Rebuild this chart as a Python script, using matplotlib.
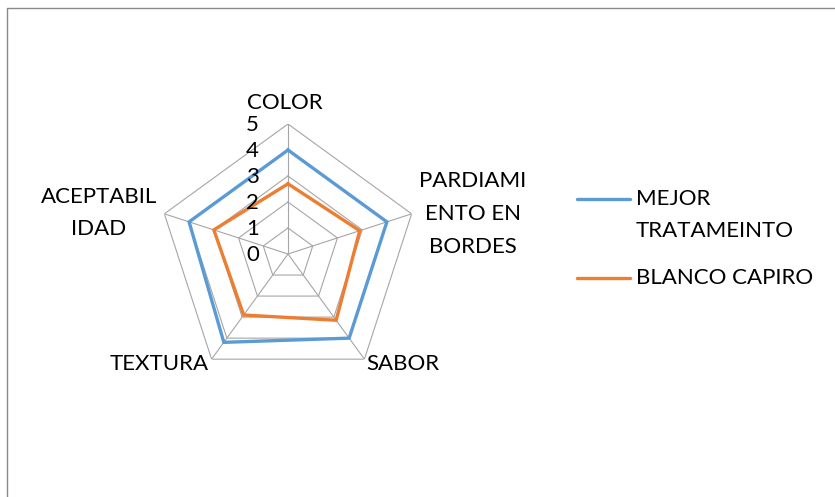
import numpy as np
import matplotlib.pyplot as plt
from matplotlib.lines import Line2D
from matplotlib.transforms import offset_copy

plt.rcParams['font.family'] = ['Lato', 'DejaVu Sans']

# ==== data ====
categories = ['COLOR', 'PARDIAMI\nENTO EN\nBORDES', 'SABOR', 'TEXTURA', 'ACEPTABIL\nIDAD']
mejor = [4.0, 4.0, 4.0, 4.2, 4.0]
blanco = [2.7, 2.9, 3.15, 2.9, 3.0]
series_names = ['MEJOR\nTRATAMEINTO', 'BLANCO CAPIRO']
series_colors = ['#5B9BD5', '#ED7D31']
ticks = [0, 1, 2, 3, 4, 5]

W, H = 835, 497
fig = plt.figure(figsize=(W / 100, H / 100), dpi=100)

def px(x, y):
    # pixel position (from top left) -> figure fraction
    return x / W, 1 - y / H

# polar axes centred on (288, 254) px, radius 130 px
cx, cy, R = 288, 254, 130
ax = fig.add_axes([(cx - R) / W, 1 - (cy + R) / H, 2 * R / W, 2 * R / H], projection='polar')
ax.set_theta_zero_location('N')
ax.set_theta_direction(-1)
ax.set_ylim(0, 5)
ax.grid(False)
ax.spines['polar'].set_visible(False)
ax.set_xticks([])
ax.set_yticks([])
ax.patch.set_alpha(0)

n = len(categories)
ang = np.linspace(0, 2 * np.pi, n, endpoint=False)
ang_c = np.append(ang, ang[0])

# polygon gridlines and spokes
grid_col = '#A6A6A6'
for t in ticks[1:]:
    ax.plot(ang_c, [t] * (n + 1), color=grid_col, lw=0.8, zorder=1)
for a in ang:
    ax.plot([a, a], [0, ticks[-1]], color=grid_col, lw=0.8, zorder=1)

# series
for vals, col in zip([mejor, blanco], series_colors):
    v = np.append(vals, vals[0])
    ax.plot(ang_c, v, color=col, lw=2.4, zorder=3, solid_joinstyle='miter')

fs = 16

# radial tick labels, right-aligned left of the top spoke
tick_tr = offset_copy(ax.transData, fig=fig, x=-29, y=-1, units='dots')
for t in ticks:
    ax.text(0, t, str(t), transform=tick_tr, fontsize=fs, ha='right', va='center')

# category labels
fig.text(*px(285, 103), categories[0], fontsize=fs, ha='center', va='center')
fig.text(*px(473, 214), categories[1], fontsize=fs, ha='center', va='center', linespacing=1.82)
fig.text(*px(366, 364), categories[2], fontsize=fs, ha='left', va='center')
fig.text(*px(209, 364), categories[3], fontsize=fs, ha='right', va='center')
fig.text(*px(99, 213), categories[4], fontsize=fs, ha='center', va='center', linespacing=1.7)

# legend, drawn by hand to keep the marker level with the first text line
leg_y = [199, 278]
for name, col, y in zip(series_names, series_colors, leg_y):
    x0, y0 = px(577, y)
    x1, _ = px(630, y)
    fig.add_artist(Line2D([x0, x1], [y0, y0], color=col, lw=2.4, solid_capstyle='round'))
    fig.text(*px(636, y - 10), name, fontsize=fs, ha='left', va='top', linespacing=1.76)

# chart area border (only top and left edges fall inside the picture)
bx, by = px(7, 8)
fig.add_artist(Line2D([bx, bx, 1.01], [-0.01, by, by], color='#898989', lw=1.0))

fig.savefig('out.png', dpi=100, facecolor='white')
